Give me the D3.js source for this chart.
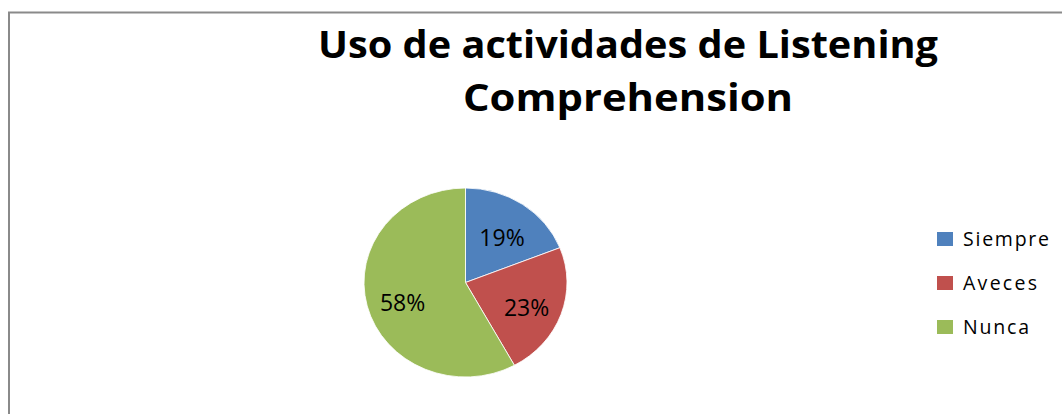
<!DOCTYPE html>
<html>
<head>
<meta charset="utf-8">
<script src="https://cdn.jsdelivr.net/npm/d3@7"></script>
<style>
  body { margin: 0; background: #fff; }
  svg { display: block; }
</style>
</head>
<body>
<div id="chart"></div>
<script>
// chart data
var titleLines = ["Uso de actividades de Listening", "Comprehension"];
var categories = ["Siempre", "Aveces", "Nunca"];
var values = [19, 23, 58];
var colors = ["#4F81BD", "#C0504D", "#9BBB59"];

var svgWidth = 1062, svgHeight = 414;

var svg = d3.select("#chart").append("svg")
  .attr("width", svgWidth)
  .attr("height", svgHeight);

// chart area border
svg.append("rect")
  .attr("x", 9).attr("y", 12.5)
  .attr("width", 1100).attr("height", 500)
  .attr("fill", "#fff")
  .attr("stroke", "#8a8a8a")
  .attr("stroke-width", 2);

// title
var titleWidths = [620, 330];
svg.append("g").selectAll("text")
  .data(titleLines)
  .join("text")
    .attr("x", 628)
    .attr("y", function(d, i) { return 58 + i * 53; })
    .attr("text-anchor", "middle")
    .attr("font-family", "'Open Sans', sans-serif")
    .attr("font-weight", "bold")
    .attr("font-size", 38)
    .attr("textLength", function(d, i) { return titleWidths[i]; })
    .attr("lengthAdjust", "spacingAndGlyphs")
    .attr("fill", "#000")
    .text(function(d) { return d; });

// pie (Excel draws it slightly wider than tall)
var cx = 465.5, cy = 282.5, rx = 101.5, ry = 94.5;
var radius = ry;

var pie = d3.pie().sort(null).value(function(d) { return d; });
var arcs = pie(values);

var arc = d3.arc().innerRadius(0).outerRadius(radius);
var labelArc = d3.arc().innerRadius(radius * 0.64).outerRadius(radius * 0.64);

var g = svg.append("g")
  .attr("transform", "translate(" + cx + "," + cy + ") scale(" + (rx / ry) + ",1)");

g.selectAll("path")
  .data(arcs)
  .join("path")
    .attr("d", arc)
    .attr("fill", function(d, i) { return colors[i]; })
    .attr("stroke", "#fff")
    .attr("stroke-width", 0.8);

var total = d3.sum(values);
svg.append("g")
  .attr("transform", "translate(" + cx + "," + cy + ")")
  .selectAll("text")
  .data(arcs)
  .join("text")
    .attr("x", function(d) { return labelArc.centroid(d)[0] * rx / ry; })
    .attr("y", function(d) { return labelArc.centroid(d)[1] + 5; })
    .attr("dy", "0.35em")
    .attr("text-anchor", "middle")
    .attr("font-family", "'Open Sans', sans-serif")
    .attr("font-size", 23)
    .attr("fill", "#000")
    .text(function(d) { return Math.round(d.value / total * 100) + "%"; });

// legend
var legendWidths = [86, 74, 66];
var legend = svg.append("g")
  .attr("transform", "translate(937,239)");

var item = legend.selectAll("g")
  .data(categories)
  .join("g")
    .attr("transform", function(d, i) { return "translate(0," + (i * 44) + ")"; });

item.append("rect")
  .attr("x", 0).attr("y", -7)
  .attr("width", 16).attr("height", 14)
  .attr("fill", function(d, i) { return colors[i]; });

item.append("text")
  .attr("x", 26)
  .attr("y", 0)
  .attr("dy", "0.36em")
  .attr("font-family", "'Open Sans', sans-serif")
  .attr("font-size", 19.5)
  .attr("textLength", function(d, i) { return legendWidths[i]; })
  .attr("lengthAdjust", "spacing")
  .attr("fill", "#000")
  .text(function(d) { return d; });
</script>
</body>
</html>
